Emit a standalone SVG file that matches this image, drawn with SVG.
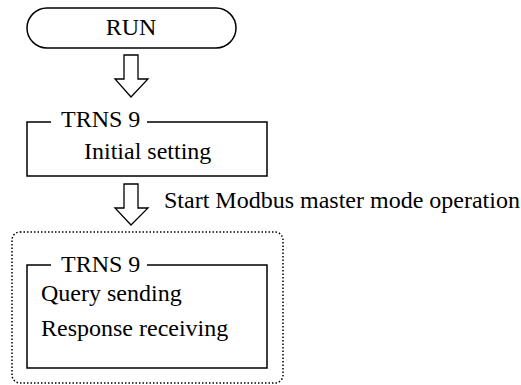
<svg xmlns="http://www.w3.org/2000/svg" width="521" height="385" viewBox="0 0 521 385">
<style>
.t{font-family:'Liberation Serif','Times New Roman',serif;font-size:24px;fill:#000}
.ln{fill:none;stroke:#000;stroke-width:1.5}
.ar{fill:#fff;stroke:#000;stroke-width:1.3;stroke-linejoin:miter}
</style>
<rect width="521" height="385" fill="#fff"/>
<g id="run">
<rect class="ln" x="27" y="8" width="209" height="40" rx="20"/>
<text class="t" x="131" y="35" text-anchor="middle">RUN</text>
</g>
<g id="connectors">
<polygon class="ar" points="124,55 138,55 138,79 148,79 131,97 115,79 124,79"/>
<polygon class="ar" points="124,184 138,184 138,208 148,208 131,225 115,208 124,208"/>
<text class="t" x="164" y="208">Start Modbus master mode operation</text>
</g>
<g id="init">
<path class="ln" d="M51,122 H27 V176 H267 V122 H147"/>
<text class="t" x="61" y="127">TRNS 9</text>
<text class="t" x="84" y="159">Initial setting</text>
</g>
<g id="loop">
<rect x="12" y="232" width="271" height="151" rx="8" fill="none" stroke="#000" stroke-width="1.5" stroke-dasharray="1.5 2"/>
<g id="trns">
<path class="ln" d="M51,265 H27 V368 H267 V265 H147"/>
<text class="t" x="61" y="272">TRNS 9</text>
<text class="t" x="41" y="301">Query sending</text>
<text class="t" x="41" y="336">Response receiving</text>
</g>
</g>
</svg>
